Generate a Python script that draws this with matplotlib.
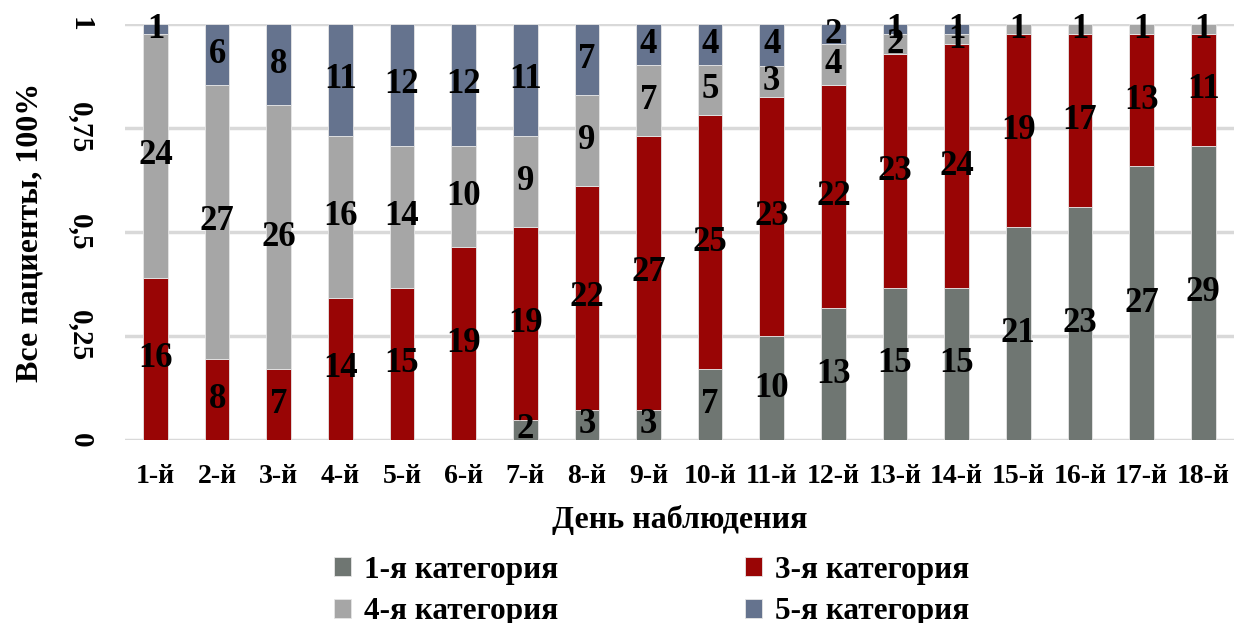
import matplotlib
matplotlib.use("Agg")
import matplotlib.pyplot as plt
import numpy as np

days = ["1-й", "2-й", "3-й", "4-й", "5-й", "6-й", "7-й", "8-й", "9-й",
        "10-й", "11-й", "12-й", "13-й", "14-й", "15-й", "16-й", "17-й", "18-й"]
cat1 = [0, 0, 0, 0, 0, 0, 2, 3, 3, 7, 10, 13, 15, 15, 21, 23, 27, 29]
cat3 = [16, 8, 7, 14, 15, 19, 19, 22, 27, 25, 23, 22, 23, 24, 19, 17, 13, 11]
cat4 = [24, 27, 26, 16, 14, 10, 9, 9, 7, 5, 3, 4, 2, 1, 1, 1, 1, 1]
cat5 = [1, 6, 8, 11, 12, 12, 11, 7, 4, 4, 4, 2, 1, 1, 0, 0, 0, 0]
series_names = ["1-я категория", "3-я категория", "4-я категория", "5-я категория"]
yticks = [0, 0.25, 0.5, 0.75, 1]
ytick_labels = ["0", "0,25", "0,5", "0,75", "1"]

colors = ["#6F7672", "#990505", "#A6A6A6", "#65738E"]

plt.rcParams["font.family"] = ["Liberation Serif", "DejaVu Serif"]
plt.rcParams["font.weight"] = "bold"

fig = plt.figure(figsize=(12.34, 6.23), dpi=100)
ax = fig.add_axes([0.101, 0.2937, 0.899, 0.6678])

data = np.array([cat1, cat3, cat4, cat5], dtype=float)
totals = data.sum(axis=0)
shares = data / totals
x = np.arange(len(days))
bottom = np.zeros(len(days))
handles = []
for vals, share, name, col in zip(data, shares, series_names, colors):
    h = ax.bar(x, share, 0.4, bottom=bottom, color=col, label=name,
               edgecolor="#E6E6E6", linewidth=0.6, zorder=2)
    handles.append(h)
    for xi, v, s, b in zip(x, vals, share, bottom):
        if v > 0:
            ax.text(xi, b + s / 2, f"{int(v)}", ha="center", va="center",
                    fontsize=25, fontweight="bold", color="black", zorder=3)
    bottom = bottom + share

ax.set_xlim(-0.5, len(days) - 0.5)
ax.set_ylim(0, 1)
ax.set_yticks(yticks)
ax.set_yticklabels(ytick_labels, rotation=-90, va="center", ha="center",
                   fontsize=21, fontweight="bold")
ax.tick_params(axis="y", length=0, pad=32)
ax.set_xticks(x)
ax.set_xticklabels(days, fontsize=20, fontweight="bold")
ax.tick_params(axis="x", length=0, pad=17)
ax.yaxis.grid(True, color="#D9D9D9", linewidth=2.5, zorder=0)
ax.set_axisbelow(True)
for sp in ax.spines.values():
    sp.set_visible(False)

ax.set_ylabel("Все пациенты, 100%", fontsize=23, fontweight="bold")
ax.yaxis.set_label_coords(-0.072, 0.5)
ax.set_xlabel("День наблюдения", fontsize=23, fontweight="bold", labelpad=12)

# column-wise legend fill: first column 1-я/4-я, second column 3-я/5-я
order = [0, 2, 1, 3]
fig.legend(handles=[handles[i] for i in order],
           labels=[series_names[i] for i in order], ncol=2, loc="upper center",
           bbox_to_anchor=(0.528, 0.128), frameon=False, fontsize=22.5,
           handlelength=0.55, handleheight=0.55, handletextpad=0.4,
           columnspacing=6.0, labelspacing=0.4, borderaxespad=0)

fig.savefig("out.png", dpi=100)
